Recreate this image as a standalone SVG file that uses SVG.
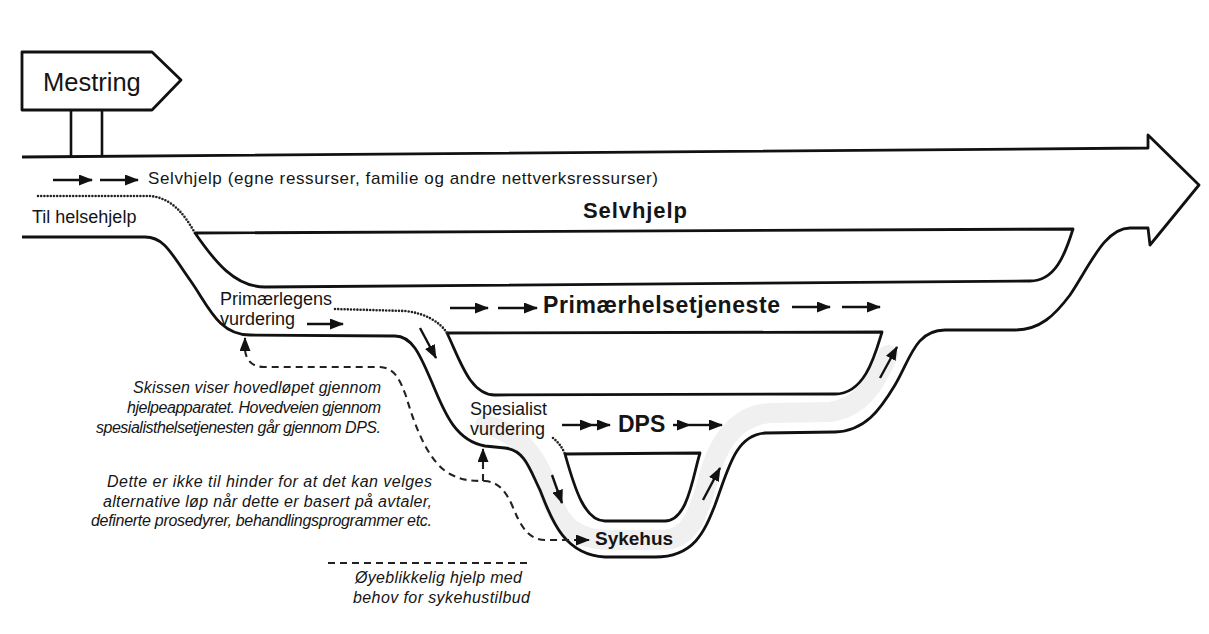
<svg xmlns="http://www.w3.org/2000/svg" width="1209" height="634" viewBox="0 0 1209 634">
<style>
.ol{fill:none;stroke:#111;stroke-width:2.8;stroke-linejoin:round}
.isl{fill:#fff;stroke:#111;stroke-width:2.8;stroke-linejoin:round}
.arr{fill:none;stroke:#111;stroke-width:2.4;marker-end:url(#ah)}
.dot{fill:none;stroke:#222;stroke-width:2.6;stroke-dasharray:0 3.2;stroke-linecap:round}
.dash{fill:none;stroke:#222;stroke-width:2.1;stroke-dasharray:7 5}
.t{font-family:"Liberation Sans",Arial,sans-serif;fill:#151515}
.n{font-size:18px}
.b{font-weight:bold}
.i{font-style:italic;font-size:16px}
</style>
<defs>
<marker id="ah" viewBox="0 0 14 11" refX="13" refY="5.5" markerWidth="14" markerHeight="11" markerUnits="userSpaceOnUse" orient="auto">
<path d="M0,0 L14,5.5 L0,11 z" fill="#111"/>
</marker>
</defs>
<rect width="1209" height="634" fill="#fff"/>

<path d="M485,425 C522,432 540,462 550,495 C560,525 575,540 610,540 L662,540 C690,540 698,515 708,480 C718,440 738,414 772,413 L830,412 C860,408 875,385 888,355" fill="none" stroke="#f0f0f0" stroke-width="20" stroke-linecap="round"/>

<g id="outline">
<path class="ol" d="M22,157 L1148,148 L1148,135 L1199,185 L1150,245 L1148,228 L1130,228 C1105,228 1090,265 1070,295 C1055,315 1040,330 1015,330 L945,330 C915,330 910,360 895,385 C880,410 865,431 835,432 L765,433 C735,435 728,470 715,505 C705,530 695,557 655,557 L605,557 C562,555 550,515 540,490 C530,470 525,450 505,448 L485,446 C452,440 442,405 430,378 C420,355 412,336 395,336 L250,335 C218,335 208,305 190,280 C172,255 165,237 145,237 L22,237"/>
</g>

<g id="selvhjelp-island"><path class="isl" d="M195,233 L1073,229 C1065,255 1055,281 1030,281 L265,287 C235,287 215,262 195,233 Z"/></g>
<g id="primaer-island"><path class="isl" d="M447,333 L882,332 C875,355 865,394 835,394 L495,395 C470,395 460,360 447,333 Z"/></g>
<g id="dps-island"><path class="isl" d="M565,454 L700,453 C693,475 688,521 665,521 L605,521 C585,521 575,490 565,454 Z"/></g>

<g id="mestring">
<path class="ol" d="M22,52 L152,52 L181,80 L152,110 L22,110 Z"/>
<line x1="71" y1="110" x2="71" y2="157" stroke="#111" stroke-width="2.6"/>
<line x1="102" y1="110" x2="102" y2="156" stroke="#111" stroke-width="2.6"/>
<text class="t" x="43" y="91" font-size="25.5">Mestring</text>
</g>

<g id="connectors">
<path class="arr" d="M53,180 L92,180"/>
<path class="arr" d="M100,180 L138,180"/>
<path class="dot" d="M38,196 L150,196 C172,198 184,214 195,233"/>
<path class="arr" d="M307,324 L343,324"/>
<path class="dot" d="M335,309 L405,311 C425,313 440,322 447,333"/>
<path class="arr" d="M420,328 L436,358"/>
<path class="arr" d="M450,308 L488,308"/>
<path class="arr" d="M498,308 L537,308"/>
<path class="arr" d="M792,307 L830,307"/>
<path class="arr" d="M842,307 L880,307"/>
<path class="arr" d="M880,378 L897,347"/>
<path class="arr" d="M562,425 L593,425"/>
<path class="arr" d="M593,425 L610,425"/>
<path class="arr" d="M673,425 L690,425"/>
<path class="arr" d="M690,425 L722,425"/>
<path class="dot" d="M553,438 C558,442 562,447 565,454"/>
<path class="arr" d="M552,475 L562,503"/>
<path class="arr" d="M703,500 L720,468"/>
<path class="dash" d="M245,350 C246,360 252,367 264,367 L380,367 C395,368 400,380 406,396 C416,430 430,465 452,475 C462,480 470,481 485,481 C498,482 505,490 512,505 C520,525 528,540 545,540 L575,540"/>
<path d="M245,350 L245,338" fill="none" stroke="#111" stroke-width="2" marker-end="url(#ah)"/>
<path d="M575,540 L589,540" fill="none" stroke="#111" stroke-width="2" marker-end="url(#ah)"/>
<path class="dash" d="M483,481 L483,462"/>
<path d="M483,462 L483,449" fill="none" stroke="#111" stroke-width="2" marker-end="url(#ah)"/>
<path class="dash" d="M328,563 L530,563"/>
</g>

<g id="labels">
<text class="t" x="148" y="184" font-size="17" textLength="510">Selvhjelp (egne ressurser, familie og andre nettverksressurser)</text>
<text class="t n" x="32" y="223">Til helsehjelp</text>
<text class="t b" x="583" y="218" font-size="22" textLength="104">Selvhjelp</text>
<text class="t n" x="220" y="305">Primærlegens</text>
<text class="t n" x="220" y="325">vurdering</text>
<text class="t b" x="543" y="313" font-size="23" textLength="237">Primærhelsetjeneste</text>
<text class="t n" x="470" y="415">Spesialist</text>
<text class="t n" x="470" y="435">vurdering</text>
<text class="t b" x="618" y="432" font-size="23">DPS</text>
<text class="t b" x="595" y="545" font-size="19">Sykehus</text>
<text class="t i" x="133" y="393" textLength="248">Skissen viser hovedløpet gjennom</text>
<text class="t i" x="127" y="413" textLength="254">hjelpeapparatet. Hovedveien gjennom</text>
<text class="t i" x="96" y="433" textLength="285">spesialisthelsetjenesten går gjennom DPS.</text>
<text class="t i" x="107" y="487" textLength="325">Dette er ikke til hinder for at det kan velges</text>
<text class="t i" x="103" y="507" textLength="329">alternative løp når dette er basert på avtaler,</text>
<text class="t i" x="91" y="526" textLength="341">definerte prosedyrer, behandlingsprogrammer etc.</text>
<text class="t i" x="355" y="583" textLength="167">Øyeblikkelig hjelp med</text>
<text class="t i" x="353" y="603" textLength="177">behov for sykehustilbud</text>
</g>
</svg>
